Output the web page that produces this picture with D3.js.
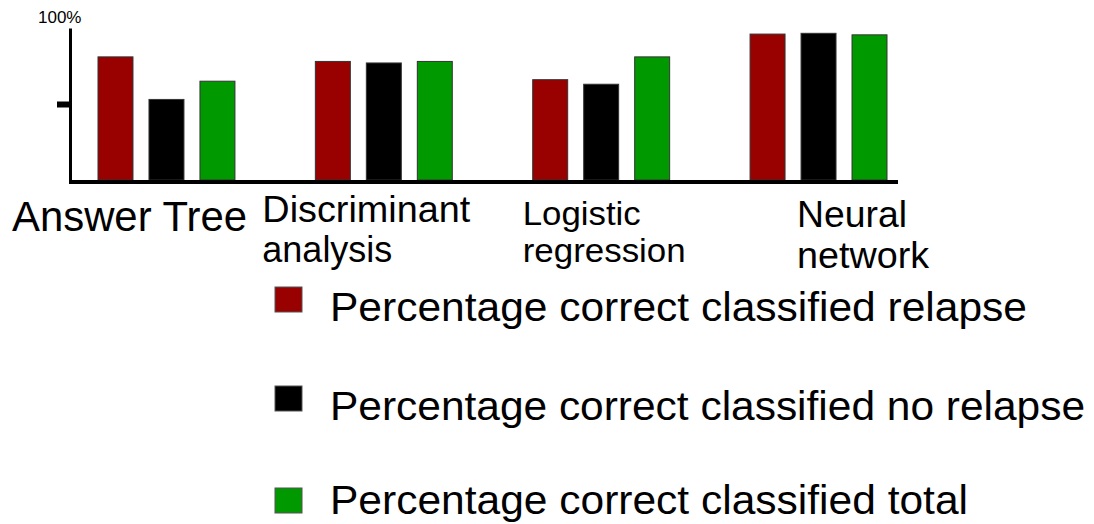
<!DOCTYPE html>
<html>
<head>
<meta charset="utf-8">
<script src="https://cdn.jsdelivr.net/npm/d3@7"></script>
<style>
  body { margin: 0; background: #fff; }
  svg text { font-family: Arial, "Liberation Sans", Helvetica, sans-serif; }
</style>
</head>
<body>
<div id="chart"></div>
<script>
// data (percent correct)
const methods = ["Answer Tree", "Discriminant analysis", "Logistic regression", "Neural network"];
const seriesNames = [
  "Percentage correct classified relapse",
  "Percentage correct classified no relapse",
  "Percentage correct classified total"
];
const relapse   = [81, 78, 66, 96];
const noRelapse = [53, 77, 63, 96.5];
const total     = [65, 78, 81, 95.5];
const yTicks = [50];

// label lines for the categories (reference wraps them by hand)
const labelLines = [["Answer Tree"], ["Discriminant", "analysis"], ["Logistic", "regression"], ["Neural", "network"]];

const colors = ["#990000", "#000000", "#009900"];

const width = 1094, height = 524;

const svg = d3.select("#chart").append("svg")
  .attr("width", width)
  .attr("height", height);

// scales
const x0 = d3.scaleBand()
  .domain(methods)
  .range([98, 887])
  .paddingInner(0.37)
  .paddingOuter(0);

const x1 = d3.scaleBand()
  .domain(seriesNames)
  .range([0, x0.bandwidth()])
  .paddingInner(0.314);

const y = d3.scaleLinear()
  .domain([0, 100])
  .range([180, 28]);

const color = d3.scaleOrdinal().domain(seriesNames).range(colors);

const rows = methods.map((m, i) => ({
  method: m,
  values: [relapse[i], noRelapse[i], total[i]]
}));

// bars
const groups = svg.selectAll(".barGroup")
  .data(rows)
  .enter().append("g")
  .attr("class", "barGroup")
  .attr("transform", d => `translate(${x0(d.method)},0)`);

groups.selectAll("rect")
  .data(d => seriesNames.map((s, j) => ({ key: s, value: d.values[j] })))
  .enter().append("rect")
  .attr("x", d => x1(d.key))
  .attr("y", d => y(d.value))
  .attr("width", x1.bandwidth())
  .attr("height", d => y(0) - y(d.value))
  .attr("fill", d => color(d.key))
  .attr("stroke", "#333")
  .attr("stroke-width", 1);

// y axis: one tick at 50 and a thick spine
const yAxis = d3.axisLeft(y)
  .tickValues(yTicks)
  .tickFormat("")
  .tickSize(13)
  .tickSizeOuter(0);

const yg = svg.append("g")
  .attr("transform", "translate(70,0)")
  .call(yAxis);
yg.select(".domain").attr("stroke", "#000").attr("stroke-width", 3);
yg.selectAll(".tick line").attr("stroke", "#000").attr("stroke-width", 6);

svg.append("text")
  .attr("x", 38)
  .attr("y", 23)
  .attr("font-size", 17)
  .text("100%");

// x axis baseline
svg.append("line")
  .attr("x1", 69)
  .attr("x2", 898)
  .attr("y1", y(0) + 2)
  .attr("y2", y(0) + 2)
  .attr("stroke", "#000")
  .attr("stroke-width", 4);

// category labels: offset from band start, baseline, font size, line gap, line widths
const labelPos = [
  { dx: -86, y: 231, size: 42, lh: 0,  w: [235] },
  { dx: -53, y: 222, size: 36, lh: 40, w: [208, 130] },
  { dx: -10, y: 225, size: 34, lh: 37, w: [118, 163] },
  { dx: 47,  y: 227, size: 36, lh: 41, w: [110, 132] }
];

methods.forEach((m, i) => {
  const p = labelPos[i];
  labelLines[i].forEach((line, k) => {
    svg.append("text")
      .attr("x", x0(m) + p.dx)
      .attr("y", p.y + k * p.lh)
      .attr("font-size", p.size)
      .attr("fill", "#000")
      .attr("textLength", p.w[k])
      .attr("lengthAdjust", "spacingAndGlyphs")
      .text(line);
  });
});

// legend
const legendWidths = [697, 755, 638];
const legendTop = [287, 386, 488];
const legend = svg.selectAll(".legend")
  .data(seriesNames)
  .enter().append("g")
  .attr("class", "legend")
  .attr("transform", (d, i) => `translate(275,${legendTop[i]})`);

legend.append("rect")
  .attr("width", 27)
  .attr("height", 25)
  .attr("fill", d => color(d))
  .attr("stroke", "#555")
  .attr("stroke-width", 1);

legend.append("text")
  .attr("x", 55)
  .attr("y", (d, i) => i === 2 ? 26 : 34)
  .attr("font-size", 40)
  .attr("textLength", (d, i) => legendWidths[i])
  .attr("lengthAdjust", "spacingAndGlyphs")
  .text(d => d);
</script>
</body>
</html>
